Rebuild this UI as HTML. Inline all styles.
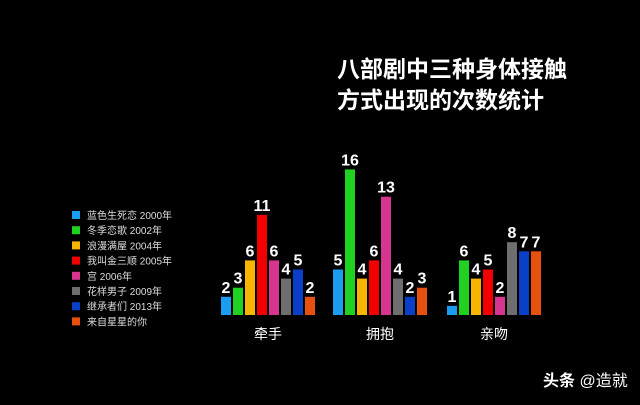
<!DOCTYPE html>
<html><head><meta charset="utf-8"><style>
body{margin:0;background:#000;width:640px;height:400px;overflow:hidden;font-family:"Liberation Sans","Noto Sans CJK SC",sans-serif;}
</style></head><body>
<svg width="640" height="400" xmlns="http://www.w3.org/2000/svg">
<rect width="640" height="400" fill="#000"/>
<g font-family="'Liberation Sans','Noto Sans CJK SC',sans-serif" fill="#fff" font-size="23" font-weight="bold">
<text x="337" y="77">八部剧中三种身体接触</text>
<text x="337" y="108">方式出现的次数统计</text>
</g>
<g id="legend"></g>
<g id="bars"></g>
<text x="543" y="386" fill="#fff" font-size="16" font-family="'Liberation Sans','Noto Sans CJK SC',sans-serif"><tspan font-weight="bold">头条</tspan> @造就</text>
</svg>
<script>
const categories = ["牵手","拥抱","亲吻"];
const seriesNames = ["蓝色生死恋 2000年","冬季恋歌 2002年","浪漫满屋 2004年","我叫金三顺 2005年","宫 2006年","花样男子 2009年","继承者们 2013年","来自星星的你"];
const colors = ["#1a9cf0","#1fd21f","#f7b500","#f20000","#d6368f","#6e6e6e","#0a3fc8","#e8500f"];
const values = [
  [2,3,6,11,6,4,5,2],
  [5,16,4,6,13,4,2,3],
  [1,6,4,5,2,8,7,7]
];
const NS="http://www.w3.org/2000/svg";
const baseY=315, unit=9.1, barW=10, step=12;
const groupX=[221,333,447];
function yScale(v){return baseY-v*unit;}
function xPos(g,i){return groupX[g]+i*step;}
const bars=document.getElementById('bars');
categories.forEach((c,g)=>{
  values[g].forEach((v,i)=>{
    const r=document.createElementNS(NS,'rect');
    
    
    r.setAttribute('x',xPos(g,i));r.setAttribute('y',yScale(v));
    r.setAttribute('width',barW);r.setAttribute('height',v*unit);
    r.setAttribute('fill',colors[i]);bars.appendChild(r);
    const t=document.createElementNS(NS,'text');
    
    
    t.setAttribute('x',xPos(g,i)+barW/2);t.setAttribute('y',yScale(v)-4);
    t.setAttribute('text-anchor','middle');t.setAttribute('fill','#fff');
    t.setAttribute('font-size','16');t.setAttribute('font-weight','bold');
    t.setAttribute('font-family','Liberation Sans, sans-serif');
    t.textContent=v;bars.appendChild(t);
  });
  const l=document.createElementNS(NS,'text');
  
  
  l.setAttribute('x',groupX[g]+(step*7+barW)/2);l.setAttribute('y',339);
  l.setAttribute('text-anchor','middle');l.setAttribute('fill','#fff');
  l.setAttribute('font-size','14');
  l.setAttribute('font-family','Liberation Sans, Noto Sans CJK SC, sans-serif');
  l.textContent=c;bars.appendChild(l);
});
const legend=document.getElementById('legend');
seriesNames.forEach((n,i)=>{
  const y=211+i*15.2;
  const r=document.createElementNS(NS,'rect');
  
  
  r.setAttribute('x',72);r.setAttribute('y',y);r.setAttribute('width',8);r.setAttribute('height',8);
  r.setAttribute('fill',colors[i]);legend.appendChild(r);
  const t=document.createElementNS(NS,'text');
  
  
  t.setAttribute('x',87);t.setAttribute('y',y+8);t.setAttribute('fill','#ddd');
  t.setAttribute('font-size','10');
  t.setAttribute('font-family','Liberation Sans, Noto Sans CJK SC, sans-serif');
  t.textContent=n;legend.appendChild(t);
});
</script>
</body></html>
